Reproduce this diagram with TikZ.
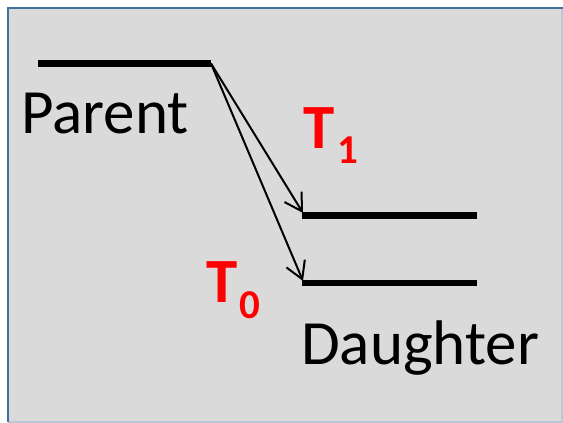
\documentclass[tikz,border=0pt]{standalone}
\usepackage{fontspec}
\setmainfont{Carlito}
\usetikzlibrary{arrows.meta}
\definecolor{panelgray}{HTML}{DADADA}
\definecolor{frameblue}{HTML}{41719C}
\definecolor{framelight}{HTML}{BCC6D4}
\begin{document}
\begin{tikzpicture}[x=1pt,y=-1pt,
  level/.style={black,line width=6.5pt},
  decay/.style={black,line width=2pt,-{Straight Barb[length=17pt,width=20pt]}},
  word/.style={anchor=base west,inner sep=0pt,font=\fontsize{63}{63}\selectfont},
  rate/.style={anchor=base west,inner sep=0pt,text=red,font=\bfseries\fontsize{63}{63}\selectfont}]
  \useasboundingbox (0,0) rectangle (563,423);
  % panel
  \fill[panelgray] (8,8) rectangle (562,422);
  \draw[framelight,line width=1.2pt] (562,8) -- (562,422) -- (8,422);
  \draw[frameblue,line width=2.4pt] (8,422) -- (8,8) -- (563,8);
  % levels
  \coordinate (pw) at (38,63.5);
  \coordinate (pe) at (211,63.5);
  \coordinate (aw) at (302,215.5);
  \coordinate (ae) at (477,215.5);
  \coordinate (bw) at (302,283);
  \coordinate (be) at (477,283);
  \draw[level] (pw) -- (pe);
  \draw[level] (aw) -- (ae);
  \draw[level] (bw) -- (be);
  \node[word] (parent) at (21,133) {Parent};
  \node[word] (daughter) at (301,364) {Daughter};
  % transitions
  \coordinate (atip) at (303,213);
  \coordinate (btip) at (303,281);
  \draw[decay] (pe) -- (atip);
  \draw[decay] (pe) -- (btip);
  \node[rate] (t1) at (303,148) {T\hspace{3pt}\raisebox{-15pt}{\fontsize{41}{41}\selectfont 1}};
  \node[rate] (t0) at (206,302) {T\hspace{2pt}\raisebox{-16pt}{\fontsize{41}{41}\selectfont 0}};
\end{tikzpicture}
\end{document}
